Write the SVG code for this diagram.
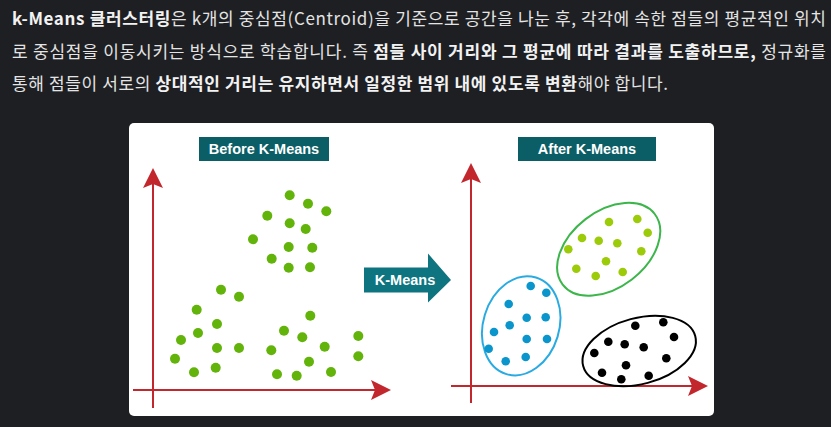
<svg xmlns="http://www.w3.org/2000/svg" width="831" height="427" viewBox="0 0 831 427">
<style>
.para{font-family:"Noto Sans CJK KR","Noto Sans",sans-serif;font-size:17px;fill:#e4e4e4}
.b{font-weight:bold;fill:#f2f2f2}
.lbl{font-family:"Liberation Sans",Arial,sans-serif;font-weight:bold;font-size:14.5px;fill:#ffffff;text-anchor:middle}
.axis{stroke:#c1272d;stroke-width:2;fill:none}
.g1{fill:#62b30a}
.g2{fill:#9ccb0a}
.bl{fill:#0a96cc}
.bk{fill:#000000}
</style>
<defs>
<marker id="ah" viewBox="0 0 20 20" refX="18" refY="10" markerWidth="20" markerHeight="20" markerUnits="userSpaceOnUse" orient="auto">
<path d="M0,0 L20,10 L0,20 L4,10 Z" fill="#c1272d"/>
</marker>
</defs>
<rect width="831" height="427" fill="#1e1f22"/>
<g id="paragraph">
<text class="para" x="12" y="25" textLength="814" lengthAdjust="spacing"><tspan class="b">k-Means 클러스터링</tspan>은 k개의 중심점(Centroid)을 기준으로 공간을 나눈 후, 각각에 속한 점들의 평균적인 위치</text>
<text class="para" x="12" y="57.5" textLength="814" lengthAdjust="spacing">로 중심점을 이동시키는 방식으로 학습합니다. 즉 <tspan class="b">점들 사이 거리와 그 평균에 따라 결과를 도출하므로,</tspan> 정규화를</text>
<text class="para" x="12" y="90" textLength="656" lengthAdjust="spacing">통해 점들이 서로의 <tspan class="b">상대적인 거리는 유지하면서 일정한 범위 내에 있도록 변환</tspan>해야 합니다.</text>
</g>
<g id="panel">
<rect x="129" y="123" width="585" height="293" rx="5" fill="#ffffff"/>
</g>
<g id="before-label">
<rect x="199" y="137" width="130" height="24" fill="#0b5e66"/>
<text class="lbl" x="264" y="154">Before K-Means</text>
</g>
<g id="after-label">
<rect x="518" y="137" width="138" height="24" fill="#0b5e66"/>
<text class="lbl" x="587" y="154">After K-Means</text>
</g>
<g id="kmeans-arrow">
<path d="M364,267.5 H428 V253.5 L451,280 L428,302.5 V292.5 H364 Z" fill="#0e7580"/>
<text class="lbl" x="405" y="285">K-Means</text>
</g>
<g id="connectors">
<line class="axis" x1="153" y1="408" x2="153" y2="170" marker-end="url(#ah)"/>
<line class="axis" x1="133" y1="390" x2="389" y2="390" marker-end="url(#ah)"/>
<line class="axis" x1="471" y1="403" x2="471" y2="165" marker-end="url(#ah)"/>
<line class="axis" x1="451" y1="386" x2="706" y2="386" marker-end="url(#ah)"/>
</g>
<g id="before-points" class="g1">
<circle cx="289.7" cy="195.3" r="5"/><circle cx="308" cy="203.7" r="5"/><circle cx="326.3" cy="211.3" r="5"/><circle cx="267.3" cy="215.7" r="5"/><circle cx="289.7" cy="223.3" r="5"/><circle cx="305.7" cy="229" r="5"/><circle cx="253" cy="239.3" r="5"/><circle cx="288.7" cy="247" r="5"/><circle cx="312.3" cy="247.7" r="5"/><circle cx="271.7" cy="258.7" r="5"/><circle cx="288.7" cy="267.7" r="5"/><circle cx="310" cy="267.3" r="5"/>
<circle cx="221" cy="289.7" r="5"/><circle cx="239" cy="296.7" r="5"/><circle cx="196.7" cy="309.7" r="5"/><circle cx="217" cy="324" r="5"/><circle cx="181" cy="340" r="5"/><circle cx="198" cy="333" r="5"/><circle cx="217" cy="348" r="5"/><circle cx="239" cy="348" r="5"/><circle cx="175" cy="358.7" r="5"/><circle cx="194" cy="372.3" r="5"/><circle cx="215.7" cy="367.7" r="5"/>
<circle cx="310.3" cy="315.7" r="5"/><circle cx="284" cy="330.7" r="5"/><circle cx="302.3" cy="337.3" r="5"/><circle cx="271.3" cy="350.3" r="5"/><circle cx="324.7" cy="346.7" r="5"/><circle cx="309" cy="361.7" r="5"/><circle cx="277" cy="374.3" r="5"/><circle cx="296.7" cy="375.7" r="5"/><circle cx="331" cy="372" r="5"/><circle cx="358.3" cy="336" r="5"/><circle cx="358.3" cy="356.3" r="5"/>
</g>
<g id="cluster-green">
<ellipse cx="608.7" cy="249.3" rx="58" ry="38" transform="rotate(-37.5 608.7 249.3)" fill="none" stroke="#3cb54a" stroke-width="2"/>
<g class="g2">
<circle cx="609" cy="222" r="4.3"/><circle cx="637.3" cy="219" r="4.3"/><circle cx="647.7" cy="232.7" r="4.3"/><circle cx="582" cy="238" r="4.3"/><circle cx="598.7" cy="240.7" r="4.3"/><circle cx="617.3" cy="243.3" r="4.3"/><circle cx="568.3" cy="249.3" r="4.3"/><circle cx="641.3" cy="251.3" r="4.3"/><circle cx="606" cy="261.3" r="4.3"/><circle cx="576.3" cy="268.7" r="4.3"/><circle cx="595.7" cy="276" r="4.3"/><circle cx="622.7" cy="272" r="4.3"/>
</g>
</g>
<g id="cluster-blue">
<ellipse cx="521.2" cy="325.8" rx="38" ry="50.5" transform="rotate(17 521.2 325.8)" fill="none" stroke="#29abe2" stroke-width="2"/>
<g class="bl">
<circle cx="530.7" cy="286" r="4.3"/><circle cx="546.3" cy="292.7" r="4.3"/><circle cx="508.7" cy="304" r="4.3"/><circle cx="526.7" cy="317.7" r="4.3"/><circle cx="545.7" cy="317.3" r="4.3"/><circle cx="509.7" cy="325.3" r="4.3"/><circle cx="494" cy="332" r="4.3"/><circle cx="526.7" cy="339" r="4.3"/><circle cx="547" cy="339" r="4.3"/><circle cx="488.7" cy="348.7" r="4.3"/><circle cx="505.7" cy="361.3" r="4.3"/><circle cx="525.7" cy="357" r="4.3"/>
</g>
</g>
<g id="cluster-black">
<ellipse cx="639.2" cy="351" rx="58" ry="33" transform="rotate(-15 639.2 351)" fill="none" stroke="#000000" stroke-width="2"/>
<g class="bk">
<circle cx="635.3" cy="325.7" r="4.3"/><circle cx="663.3" cy="322.3" r="4.3"/><circle cx="674" cy="337" r="4.3"/><circle cx="608.3" cy="341.7" r="4.3"/><circle cx="624.7" cy="344.3" r="4.3"/><circle cx="643.7" cy="347.3" r="4.3"/><circle cx="594.3" cy="353" r="4.3"/><circle cx="666.3" cy="358.3" r="4.3"/><circle cx="626" cy="365.3" r="4.3"/><circle cx="602" cy="372.7" r="4.3"/><circle cx="621.3" cy="379.3" r="4.3"/><circle cx="648.7" cy="375.7" r="4.3"/>
</g>
</g>
</svg>
